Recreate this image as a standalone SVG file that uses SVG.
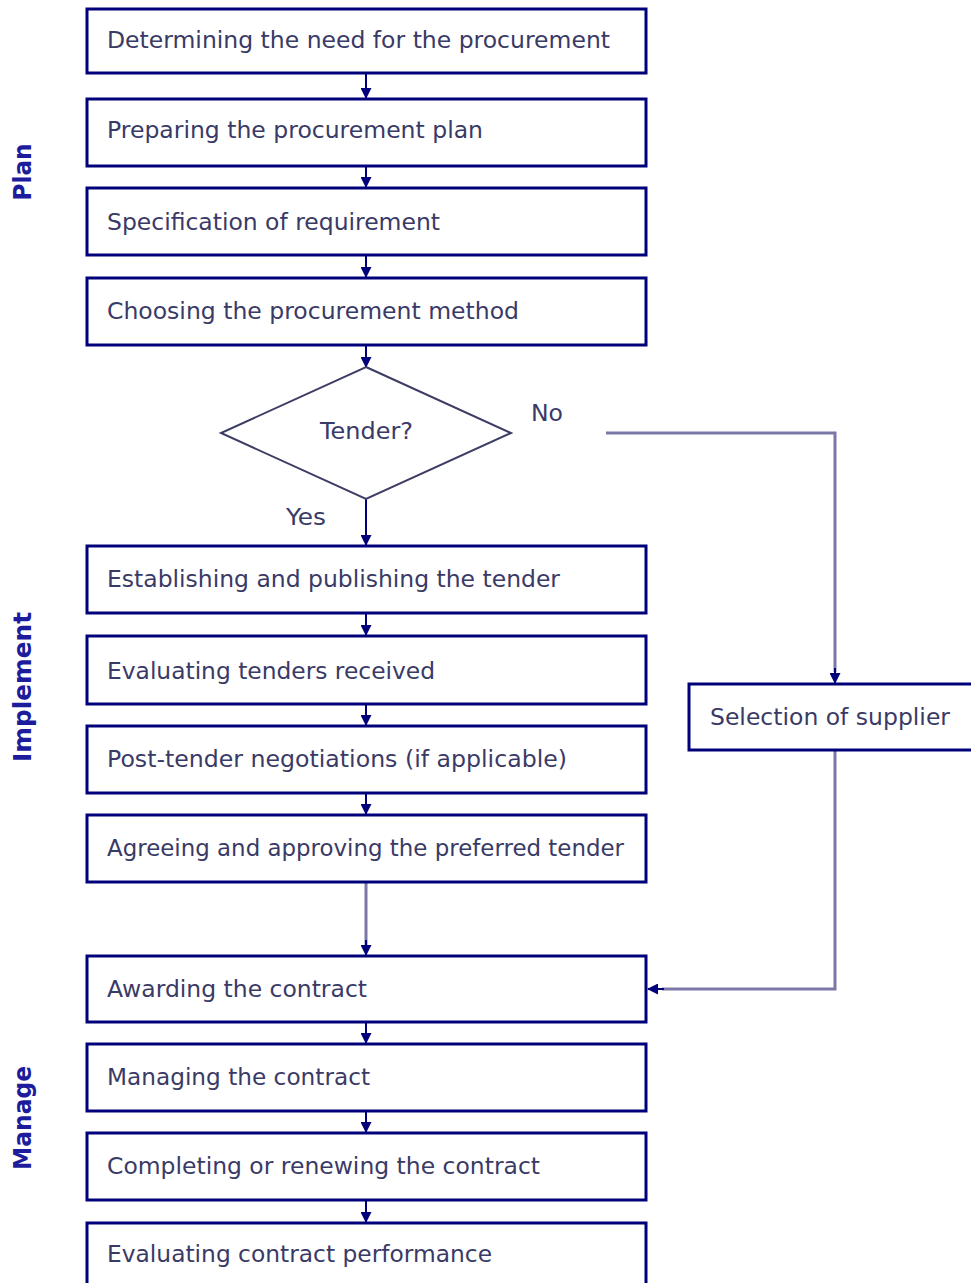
<svg xmlns="http://www.w3.org/2000/svg" width="971" height="1283" viewBox="0 0 971 1283">
<style>
.box{fill:#fff;stroke:#00007a;stroke-width:3}
.t{font-family:"DejaVu Sans",Verdana,sans-serif;font-size:23px;fill:#3a3a66}
.side{font-family:"DejaVu Sans",Verdana,sans-serif;font-size:24px;font-weight:bold;fill:#1c1c9c}
.c{fill:none;stroke:#00007a;stroke-width:2}
.g{fill:none;stroke:#7b78a8;stroke-width:3}
.dia{fill:#fff;stroke:#3c3c64;stroke-width:2}
</style>
<defs>
<marker id="ah" markerWidth="11" markerHeight="11" refX="10" refY="5.5" orient="auto" markerUnits="userSpaceOnUse">
<path d="M0,0 L11,5.5 L0,11 Z" fill="#00007a"/>
</marker>
</defs>
<rect width="971" height="1283" fill="#fff"/>
<g id="connectors">
<line class="c" x1="366" y1="73" x2="366" y2="98" marker-end="url(#ah)"/>
<line class="c" x1="366" y1="166" x2="366" y2="187" marker-end="url(#ah)"/>
<line class="c" x1="366" y1="255" x2="366" y2="277" marker-end="url(#ah)"/>
<line class="c" x1="366" y1="345" x2="366" y2="367" marker-end="url(#ah)"/>
<line class="c" x1="366" y1="499" x2="366" y2="545" stroke="#333" marker-end="url(#ah)"/>
<line class="c" x1="366" y1="613" x2="366" y2="635" marker-end="url(#ah)"/>
<line class="c" x1="366" y1="704" x2="366" y2="725" marker-end="url(#ah)"/>
<line class="c" x1="366" y1="793" x2="366" y2="814" marker-end="url(#ah)"/>
<line class="g" x1="366" y1="882" x2="366" y2="945"/>
<line class="c" x1="366" y1="940" x2="366" y2="955" marker-end="url(#ah)"/>
<line class="c" x1="366" y1="1022" x2="366" y2="1043" marker-end="url(#ah)"/>
<line class="c" x1="366" y1="1111" x2="366" y2="1132" marker-end="url(#ah)"/>
<line class="c" x1="366" y1="1200" x2="366" y2="1222" marker-end="url(#ah)"/>
<polyline class="g" points="606,433 835,433 835,672"/>
<line class="c" x1="835" y1="668" x2="835" y2="683" marker-end="url(#ah)"/>
<polyline class="g" points="835,750 835,989 662,989"/>
<line class="c" x1="664" y1="989" x2="648" y2="989" marker-end="url(#ah)"/>
<text class="t" x="531" y="421" textLength="32" lengthAdjust="spacingAndGlyphs">No</text>
<text class="t" x="286" y="525" textLength="40" lengthAdjust="spacingAndGlyphs">Yes</text>
</g>
<g id="side-labels">
<text class="side" transform="translate(31,172) rotate(-90)" text-anchor="middle" textLength="57" lengthAdjust="spacingAndGlyphs">Plan</text>
<text class="side" transform="translate(31,687) rotate(-90)" text-anchor="middle" textLength="150" lengthAdjust="spacingAndGlyphs">Implement</text>
<text class="side" transform="translate(31,1118) rotate(-90)" text-anchor="middle" textLength="104" lengthAdjust="spacingAndGlyphs">Manage</text>
</g>
<g id="n1"><rect class="box" x="87" y="9" width="559" height="64"/><text class="t" x="107" y="48" textLength="503" lengthAdjust="spacingAndGlyphs">Determining the need for the procurement</text></g>
<g id="n2"><rect class="box" x="87" y="99" width="559" height="67"/><text class="t" x="107" y="138" textLength="376" lengthAdjust="spacingAndGlyphs">Preparing the procurement plan</text></g>
<g id="n3"><rect class="box" x="87" y="188" width="559" height="67"/><text class="t" x="107" y="230" textLength="333" lengthAdjust="spacingAndGlyphs">Specification of requirement</text></g>
<g id="n4"><rect class="box" x="87" y="278" width="559" height="67"/><text class="t" x="107" y="319" textLength="412" lengthAdjust="spacingAndGlyphs">Choosing the procurement method</text></g>
<g id="n5"><polygon class="dia" points="366,367 511,433 366,499 221,433"/><text class="t" x="320" y="439" textLength="93" lengthAdjust="spacingAndGlyphs">Tender?</text></g>
<g id="n6"><rect class="box" x="87" y="546" width="559" height="67"/><text class="t" x="107" y="587" textLength="453" lengthAdjust="spacingAndGlyphs">Establishing and publishing the tender</text></g>
<g id="n7"><rect class="box" x="87" y="636" width="559" height="68"/><text class="t" x="107" y="679" textLength="328" lengthAdjust="spacingAndGlyphs">Evaluating tenders received</text></g>
<g id="n8"><rect class="box" x="87" y="726" width="559" height="67"/><text class="t" x="107" y="767" textLength="460" lengthAdjust="spacingAndGlyphs">Post-tender negotiations (if applicable)</text></g>
<g id="n9"><rect class="box" x="87" y="815" width="559" height="67"/><text class="t" x="107" y="856" textLength="517" lengthAdjust="spacingAndGlyphs">Agreeing and approving the preferred tender</text></g>
<g id="n10"><rect class="box" x="87" y="956" width="559" height="66"/><text class="t" x="107" y="997" textLength="260" lengthAdjust="spacingAndGlyphs">Awarding the contract</text></g>
<g id="n11"><rect class="box" x="87" y="1044" width="559" height="67"/><text class="t" x="107" y="1085" textLength="263" lengthAdjust="spacingAndGlyphs">Managing the contract</text></g>
<g id="n12"><rect class="box" x="87" y="1133" width="559" height="67"/><text class="t" x="107" y="1174" textLength="433" lengthAdjust="spacingAndGlyphs">Completing or renewing the contract</text></g>
<g id="n13"><rect class="box" x="87" y="1223" width="559" height="70"/><text class="t" x="107" y="1262" textLength="385" lengthAdjust="spacingAndGlyphs">Evaluating contract performance</text></g>
<g id="n14"><rect class="box" x="689" y="684" width="300" height="66"/><text class="t" x="710" y="725" textLength="240" lengthAdjust="spacingAndGlyphs">Selection of supplier</text></g>
</svg>
